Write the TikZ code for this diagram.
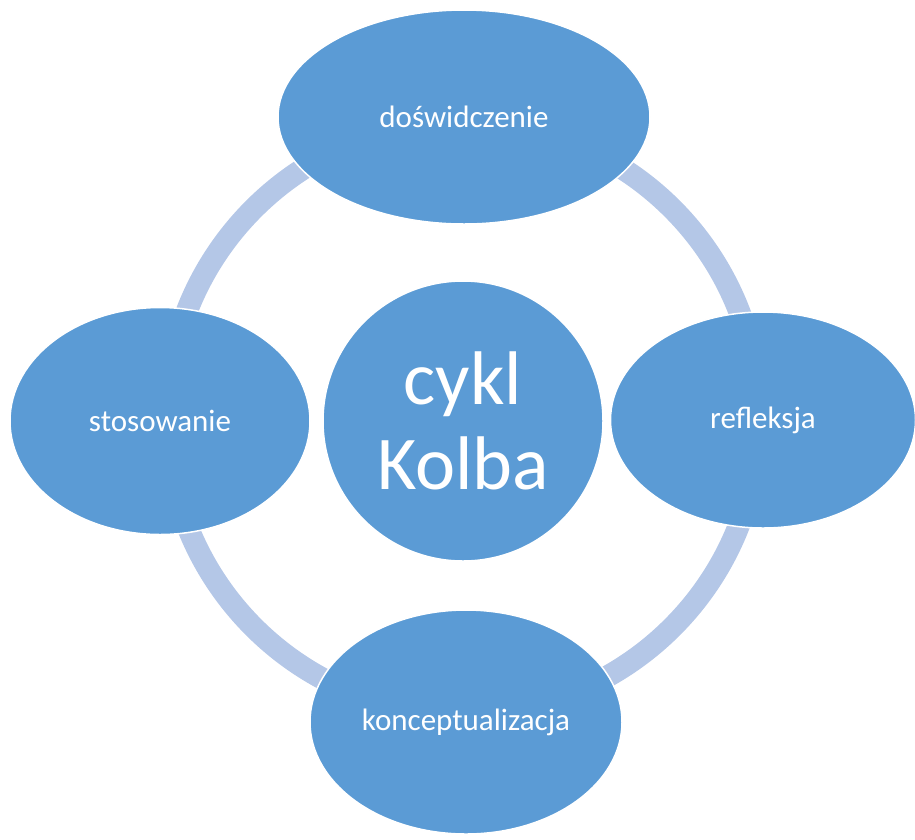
\documentclass[tikz,border=0pt]{standalone}
\usepackage{fontspec}
\setmainfont{Carlito}
\usetikzlibrary{shapes.geometric}
\definecolor{kolbblue}{HTML}{5B9BD5}
\definecolor{ringblue}{HTML}{B4C7E7}
\begin{document}
\begin{tikzpicture}[
        x=1pt, y=-1pt,
        stage/.style = {ellipse, fill=kolbblue, draw=white, line width=1.5pt, text=white, inner sep=0pt, font=\fontsize{31}{37}\selectfont},
        hub/.style = {circle, fill=kolbblue, draw=white, line width=1.5pt, text=white, inner sep=0pt, minimum size=280pt, align=center, font=\fontsize{76}{85}\selectfont},
        ring/.style = {ringblue, line width=22pt}
    ]
        \useasboundingbox (0,0) rectangle (915,839);
        \coordinate (centre) at (463,418);
        \draw[ring] (centre) circle[radius=296];
        \node[stage, minimum width=372pt, minimum height=214pt] (experience) at (464,117) {doświdczenie};
        \node[stage, minimum width=305pt, minimum height=216pt] (reflection) at (763,420) {refleksja};
        \node[stage, minimum width=312pt, minimum height=224pt] (concept) at (466,722) {konceptualizacja};
        \node[stage, minimum width=300pt, minimum height=227pt] (applying) at (160,421) {stosowanie};
        \node[hub] (kolb) at (463,421) {cykl\\Kolba};
    \end{tikzpicture}
\end{document}
